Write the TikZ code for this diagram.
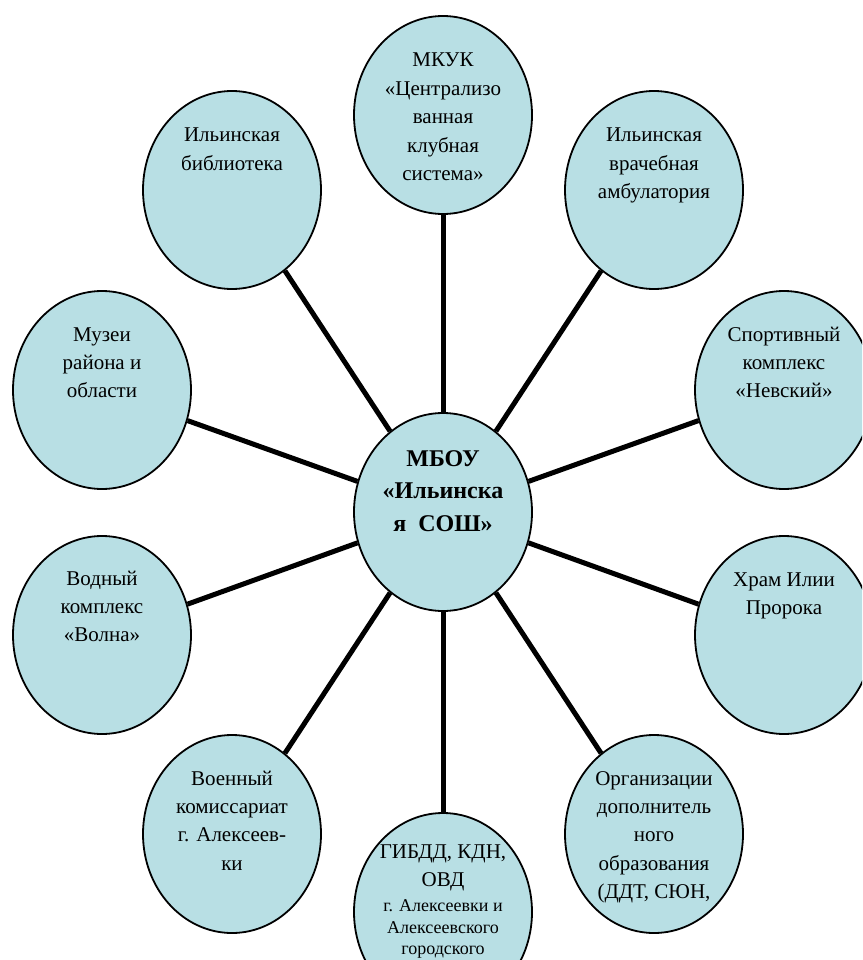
\documentclass[tikz,border=0pt]{standalone}
\usepackage{fontspec}
\setmainfont{Liberation Serif}
\usetikzlibrary{shapes.geometric}
\definecolor{bubblefill}{RGB}{184,223,228}
\newcommand{\mylines}[1]{\begin{tabular}[t]{@{}c@{}}#1\end{tabular}}
\tikzset{
  bubble/.style={ellipse, draw=black, line width=1.8pt, fill=bubblefill,
    minimum width=178pt, minimum height=198pt, inner sep=0pt},
  txt/.style={anchor=base, inner sep=0pt, font=\fontsize{21}{28.4}\selectfont},
  btxt/.style={anchor=base, inner sep=0pt, font=\fontsize{24}{32.5}\selectfont\bfseries},
  link/.style={line width=5pt}
}
\begin{document}
\begin{tikzpicture}[x=1pt,y=-1pt]
\useasboundingbox (0,0) rectangle (862,960);
\clip (0,0) rectangle (862,960);
% bubbles
\node[bubble] (c)   at (443,512) {};
\node[bubble] (n1)  at (443,115) {};
\node[bubble] (n2)  at (232,190) {};
\node[bubble] (n3)  at (654,190) {};
\node[bubble] (n4)  at (102,390) {};
\node[bubble] (n5)  at (784,390) {};
\node[bubble] (n6)  at (102,635) {};
\node[bubble] (n7)  at (784,635) {};
\node[bubble] (n8)  at (232,834) {};
\node[bubble] (n9)  at (654,834) {};
\node[bubble] (n10) at (443,912) {};
% connectors
\foreach \n in {n1,n2,n3,n4,n5,n6,n7,n8,n9,n10}
  \draw[link] (c) -- (\n);
% texts
\node[btxt] (tc) at (443,466) {\mylines{МБОУ\\«Ильинска\\я~~СОШ»}};
\node[txt] (t1) at (443,67) {\mylines{МКУК\\«Централизо\\ванная\\клубная\\система»}};
\node[txt] (t2) at (232,142) {\mylines{Ильинская\\библиотека}};
\node[txt] (t3) at (654,142) {\mylines{Ильинская\\врачебная\\амбулатория}};
\node[txt] (t4) at (102,341) {\mylines{Музеи\\района и\\области}};
\node[txt] (t5) at (784,341) {\mylines{Спортивный\\комплекс\\«Невский»}};
\node[txt] (t6) at (102,585) {\mylines{Водный\\комплекс\\«Волна»}};
\node[txt] (t7) at (784,586) {\mylines{Храм Илии\\Пророка}};
\node[txt] (t8) at (232,785) {\mylines{Военный\\комиссариат\\г. Алексеев-\\ки}};
\node[txt] (t9) at (654,785) {\mylines{Организации\\дополнитель\\ного\\образования\\(ДДТ, СЮН,}};
\node[txt] (t10) at (443,858) {\mylines{ГИБДД, КДН,\\ОВД\\[-3.4pt]
  {\fontsize{18}{23}\selectfont г. Алексеевки и}\\[-6.4pt]
  {\fontsize{18}{23}\selectfont Алексеевского}\\[-7.4pt]
  {\fontsize{18}{23}\selectfont городского}}};
\end{tikzpicture}
\end{document}
